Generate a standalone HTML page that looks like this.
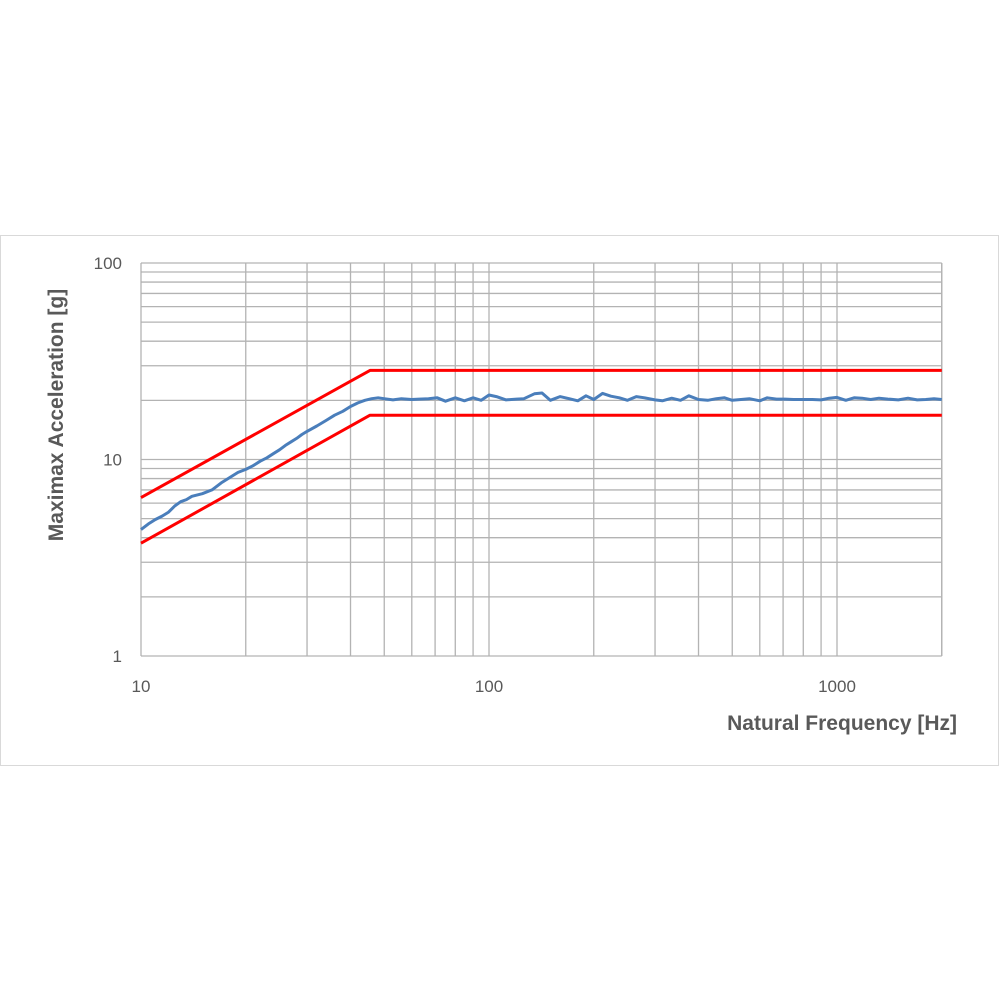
<!DOCTYPE html>
<html><head><meta charset="utf-8"><style>
body{margin:0;background:#fff;font-family:"Liberation Sans",sans-serif}
</style></head><body>
<svg id="chart" width="1000" height="1000">
<rect x="0.5" y="235.5" width="998" height="530" fill="#fff" stroke="#d9d9d9"/>
<g id="grid"></g>
<g id="ticks"></g>
<g id="series"></g>
<text x="63" y="415" transform="rotate(-90 63 415)" text-anchor="middle" font-size="21" font-weight="bold" fill="#595959">Maximax Acceleration [g]</text>
<text x="957" y="730" text-anchor="end" font-size="21" font-weight="bold" fill="#595959">Natural Frequency [Hz]</text>
</svg>
<script>
const xTickLabels=["10","100","1000"];
const xTickValues=[10,100,1000];
const yTickLabels=["1","10","100"];
const yTickValues=[1,10,100];
const upperFreq=[10,45.5,2000];
const upperVal=[6.4,28.4,28.4];
const lowerFreq=[10,45.5,2000];
const lowerVal=[3.75,16.8,16.8];
const respFreq=[10,10.5,11,11.5,12,12.5,13,13.5,14,15,16,17,18,19,20,21,22,23,24,25,26,27,28,29,30,32,34,36,38,40,42,44,46,48,50,53,56,60,63,67,71,75,80,85,90,95,100,105,112,120,126,135,142,150,160,170,180,190,200,212,224,237,250,265,280,300,315,335,355,375,400,425,450,475,500,530,560,600,630,670,710,750,800,850,900,950,1000,1060,1120,1180,1250,1320,1400,1500,1600,1700,1800,1900,2000];
const respVal=[4.4,4.7,4.95,5.15,5.4,5.8,6.1,6.25,6.5,6.7,7.0,7.6,8.1,8.6,8.9,9.3,9.8,10.2,10.7,11.2,11.8,12.3,12.8,13.4,13.9,14.8,15.8,16.8,17.6,18.6,19.4,20.0,20.4,20.6,20.4,20.1,20.4,20.2,20.3,20.4,20.6,19.8,20.6,19.9,20.6,20.0,21.3,20.9,20.1,20.3,20.4,21.6,21.8,20.0,20.9,20.4,19.9,21.1,20.2,21.7,21.0,20.6,20.0,20.9,20.6,20.1,19.9,20.5,20.0,21.1,20.2,20.0,20.4,20.6,20.0,20.2,20.4,19.9,20.6,20.3,20.3,20.2,20.2,20.2,20.1,20.5,20.7,20.0,20.6,20.5,20.2,20.5,20.3,20.1,20.5,20.1,20.2,20.4,20.2];
const X0=141,DEC_X=348,Y0=656,DEC_Y=196.5,XMAX=2000;
function xs(f){return X0+Math.log10(f/10)*DEC_X;}
function ys(v){return Y0-Math.log10(v)*DEC_Y;}
const NS="http://www.w3.org/2000/svg";
const grid=document.getElementById('grid');
function line(x1,y1,x2,y2,name){const l=document.createElementNS(NS,'line');
l.setAttribute('x1',x1);l.setAttribute('y1',y1);l.setAttribute('x2',x2);l.setAttribute('y2',y2);
l.setAttribute('stroke','#b3b3b3');l.setAttribute('stroke-width','1.3');


grid.appendChild(l);}
for(let d=1;d<=100;d*=10){for(let k=1;k<=9;k++){const v=d*k;if(v>100)break;line(X0,ys(v),xs(XMAX),ys(v),'h-gridline');}}
for(let d=10;d<=1000;d*=10){for(let k=1;k<=9;k++){const f=d*k;if(f>XMAX)break;line(xs(f),ys(100),xs(f),ys(1),'v-gridline');}}
line(xs(XMAX),ys(100),xs(XMAX),ys(1),'v-gridline');
const ticks=document.getElementById('ticks');
function txt(x,y,s,anchor,name){const t=document.createElementNS(NS,'text');t.setAttribute('x',x);t.setAttribute('y',y);
t.setAttribute('text-anchor',anchor);t.setAttribute('font-size','17');t.setAttribute('fill','#595959');t.textContent=s;


ticks.appendChild(t);}
xTickValues.forEach((v,i)=>txt(xs(v),692,xTickLabels[i],'middle','x-tick-label'));
yTickValues.forEach((v,i)=>txt(122,ys(v)+6,yTickLabels[i],'end','y-tick-label'));
const series=document.getElementById('series');
function poly(F,V,color,w,name){const p=document.createElementNS(NS,'polyline');
p.setAttribute('points',F.map((f,i)=>xs(f).toFixed(1)+','+ys(V[i]).toFixed(1)).join(' '));
p.setAttribute('fill','none');p.setAttribute('stroke',color);p.setAttribute('stroke-width',w);p.setAttribute('stroke-linejoin','round');


series.appendChild(p);}
poly(upperFreq,upperVal,'#ff0000',3,'upper-tolerance-line');
poly(lowerFreq,lowerVal,'#ff0000',3,'lower-tolerance-line');
poly(respFreq,respVal,'#4a7ebb',3,'response-line');
</script>
</body></html>
